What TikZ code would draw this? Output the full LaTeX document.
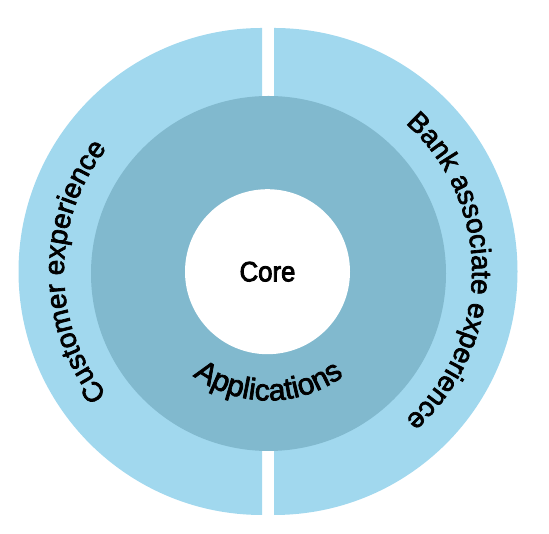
\documentclass[tikz,border=0pt]{standalone}
\usepackage{fontspec}
\setmainfont{Liberation Sans}
\newfontfamily\ringfam[FakeBold=2.5]{Liberation Sans}
\newfontfamily\corefam[FakeBold=3, FakeStretch=0.92]{Liberation Sans}
\usetikzlibrary{%
	decorations.text,%
}
\tikzset{
	outerhalf/.style={%
			fill=cbluelight,%
			draw=none},%
	appsring/.style={%
			circle,%
			fill=cbluemid,%
			minimum size=355pt,%
			inner sep=0},%
	corering/.style={%
			circle,%
			fill=white,%
			minimum size=165pt,%
			inner sep=0,%
			font={\corefam\fontsize{28}{28}\selectfont}},%
	ringtext/.style 2 args={%
			decoration={text along path,%
					text align=center,%
					text={|\ringfam\fontsize{#1}{#1}\selectfont|#2}},%
			decorate},%
}
\definecolor{cbluelight}{RGB}{161, 216, 238}
\definecolor{cbluemid}{RGB}{129, 185, 206}

\begin{document}
\begin{tikzpicture}[x=1pt, y=1pt]%
	\useasboundingbox (0,0) rectangle (549,534);

	\coordinate (lc) at (262,262.5);
	\coordinate (rc) at (274,262.5);

	\fill[outerhalf] (lc) ++(270:243.5) arc[start angle=270, end angle=90, radius=243.5] -- cycle;
	\fill[outerhalf] (rc) ++(90:243.5) arc[start angle=90, end angle=-90, radius=243.5] -- cycle;

	\node[appsring] (apps) at (268.5,260.5) {};
	\node[corering] (core) at (267.5,262.3) {Core};

	\path[ringtext={30}{Applications}] (apps.center) ++(180:127) arc[start angle=180, end angle=360, radius=127];
	\path[ringtext={28}{Customer experience}] (lc) ++(270:198) arc[start angle=270, end angle=90, radius=198];
	\path[ringtext={28}{Bank associate experience}] (rc) ++(90:198) arc[start angle=90, end angle=-90, radius=198];
\end{tikzpicture}
\end{document}
